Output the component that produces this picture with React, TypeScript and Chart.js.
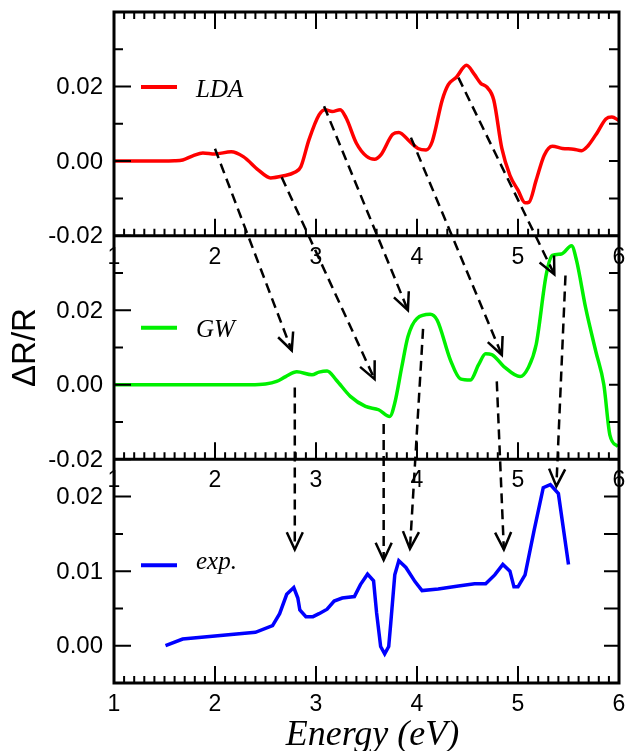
import { useEffect, useRef } from "react";
import { Chart, registerables } from "chart.js";

Chart.register(...registerables);

// ---------- data ----------
const ENERGY_MIN = 1;
const ENERGY_MAX = 6;
const xMajorTicks = [1, 2, 3, 4, 5, 6];
const xTickLabels = ["1", "2", "3", "4", "5", "6"];
const xMinorStep = 0.1;

const ldaEnergy = [1.0, 1.3, 1.6, 1.68, 1.78, 1.88, 2.0, 2.16, 2.28, 2.43, 2.55, 2.67, 2.79, 2.85, 2.93, 3.03, 3.09, 3.16, 3.24, 3.3, 3.4, 3.5, 3.58, 3.64, 3.76, 3.82, 3.93, 4.01, 4.09, 4.15, 4.25, 4.31, 4.39, 4.49, 4.57, 4.63, 4.69, 4.76, 4.84, 4.92, 5.0, 5.07, 5.11, 5.18, 5.26, 5.34, 5.44, 5.55, 5.63, 5.69, 5.79, 5.87, 5.93, 6.0];
const ldaValues = [0, 0, 0.0001, 0.0003, 0.0014, 0.0022, 0.0019, 0.0025, 0.0012, -0.0024, -0.0045, -0.004, -0.003, -0.0015, 0.0057, 0.0124, 0.0138, 0.0133, 0.0138, 0.0115, 0.0048, 0.0013, 0.0005, 0.0016, 0.0072, 0.0077, 0.0052, 0.0034, 0.003, 0.0052, 0.0164, 0.0205, 0.0225, 0.0257, 0.0232, 0.0209, 0.0199, 0.0164, 0.0034, -0.0038, -0.0078, -0.0112, -0.011, -0.0051, 0.0016, 0.004, 0.0034, 0.0032, 0.0028, 0.004, 0.0079, 0.0113, 0.0118, 0.0109];

const gwEnergy = [1.0, 2.0, 2.35, 2.5, 2.61, 2.7, 2.81, 2.96, 3.03, 3.11, 3.2, 3.34, 3.49, 3.62, 3.73, 3.78, 3.85, 3.91, 4.0, 4.13, 4.2, 4.33, 4.43, 4.53, 4.61, 4.68, 4.74, 4.86, 5.02, 5.1, 5.18, 5.28, 5.34, 5.43, 5.53, 5.58, 5.67, 5.77, 5.85, 5.91, 5.99];
const gwValues = [0, 0, 0, 0.0002, 0.0009, 0.0022, 0.0035, 0.0027, 0.0034, 0.0037, 0.0013, -0.0031, -0.0058, -0.0067, -0.0085, -0.0049, 0.0049, 0.0129, 0.0178, 0.0189, 0.0173, 0.0067, 0.0016, 0.0013, 0.0054, 0.0083, 0.0081, 0.0049, 0.0022, 0.0045, 0.0108, 0.0296, 0.0347, 0.0351, 0.0373, 0.0333, 0.0206, 0.009, 0.0, -0.0135, -0.0166];

const expEnergy = [1.51, 1.68, 2.4, 2.57, 2.64, 2.71, 2.78, 2.82, 2.84, 2.9, 2.97, 3.03, 3.11, 3.18, 3.26, 3.38, 3.44, 3.51, 3.57, 3.6, 3.64, 3.68, 3.72, 3.74, 3.78, 3.82, 3.89, 3.98, 4.05, 4.21, 4.41, 4.57, 4.68, 4.77, 4.85, 4.92, 4.96, 5.0, 5.07, 5.16, 5.25, 5.32, 5.4, 5.5];
const expValues = [0.0, 0.0009, 0.0018, 0.0027, 0.0043, 0.0069, 0.0078, 0.0064, 0.0048, 0.0039, 0.0039, 0.0043, 0.0049, 0.006, 0.0064, 0.0066, 0.0082, 0.0096, 0.0087, 0.0044, -0.0001, -0.0011, -0.0001, 0.003, 0.0095, 0.0114, 0.0105, 0.0086, 0.0074, 0.0076, 0.008, 0.0083, 0.0083, 0.0095, 0.0109, 0.01, 0.0079, 0.0079, 0.0095, 0.0155, 0.0212, 0.0216, 0.0204, 0.0109];

const ldaRange = [-0.02, 0.04];
const gwRange = [-0.02, 0.04];
const expRange = [-0.005, 0.025];

const ldaMajorYTicks = [-0.02, 0, 0.02];
const ldaYLabels = ["-0.02", "0.00", "0.02"];
const ldaMinorYTicks = [-0.01, 0.01, 0.03];
const gwMajorYTicks = [-0.02, 0, 0.02];
const gwYLabels = ["-0.02", "0.00", "0.02"];
const gwMinorYTicks = [-0.01, 0.01, 0.03];
const expMajorYTicks = [0, 0.01, 0.02];
const expYLabels = ["0.00", "0.01", "0.02"];
const expMinorYTicks = [0.005, 0.015];

const seriesNames = ["LDA", "GW", "exp."];
const xTitle = "Energy (eV)";
const yTitle = "ΔR/R";

// arrows: [energy, value] pairs
const ldaToGwFrom = [[2.0, 0.0033], [2.66, -0.0043], [3.08, 0.0147], [3.94, 0.0063], [4.41, 0.0224]];
const ldaToGwTo = [[2.76, 0.0092], [3.58, 0.0015], [3.91, 0.02], [4.84, 0.008], [5.36, 0.0296]];
const gwToExpFrom = [[2.79, -0.0007], [3.67, -0.0105], [4.06, 0.015], [4.79, 0.0009], [5.47, 0.0293]];
const gwToExpTo = [[2.79, 0.0129], [3.67, 0.0115], [3.93, 0.013], [4.86, 0.0129], [5.38, 0.0214]];

const toPoints = (xs: number[], ys: number[]) => xs.map((x, i) => ({ x, y: ys[i] }));

const SANS = '"Liberation Sans", Arial, sans-serif';
const SERIF = '"Liberation Serif", "Times New Roman", serif';

const decorPlugin = {
  id: "decor",
  afterDatasetsDraw(chart: any) {
    const ctx: CanvasRenderingContext2D = chart.ctx;
    const ca = chart.chartArea;
    const xs = chart.scales.x;
    const sL = chart.scales.yLDA;
    const sG = chart.scales.yGW;
    const sE = chart.scales.yExp;
    ctx.save();

    // legends
    const legends = [
      { s: sL, off: 75, color: "#ff0000", text: seriesNames[0], dy: 10 },
      { s: sG, off: 92, color: "#00f000", text: seriesNames[1], dy: 9 },
      { s: sE, off: 106, color: "#0000ff", text: seriesNames[2], dy: 4 },
    ];
    for (const lg of legends) {
      const y = lg.s.top + lg.off;
      ctx.strokeStyle = lg.color;
      ctx.lineWidth = 4;
      ctx.beginPath();
      ctx.moveTo(ca.left + 27, y);
      ctx.lineTo(ca.left + 63, y);
      ctx.stroke();
      ctx.fillStyle = "#000";
      ctx.font = `italic 25px ${SERIF}`;
      ctx.textAlign = "left";
      ctx.textBaseline = "alphabetic";
      ctx.fillText(lg.text, ca.left + 82, y + lg.dy);
    }

    // arrows
    const arrow = (x0: number, y0: number, x1: number, y1: number) => {
      ctx.strokeStyle = "#000";
      ctx.lineWidth = 2.5;
      ctx.setLineDash([10, 6]);
      ctx.beginPath();
      ctx.moveTo(x0, y0);
      ctx.lineTo(x1, y1);
      ctx.stroke();
      ctx.setLineDash([]);
      const ang = Math.atan2(y1 - y0, x1 - x0);
      const L = 19;
      const a = (25 * Math.PI) / 180;
      ctx.beginPath();
      ctx.moveTo(x1 - L * Math.cos(ang - a), y1 - L * Math.sin(ang - a));
      ctx.lineTo(x1, y1);
      ctx.lineTo(x1 - L * Math.cos(ang + a), y1 - L * Math.sin(ang + a));
      ctx.stroke();
    };
    ldaToGwFrom.forEach((f, i) => {
      const t = ldaToGwTo[i];
      arrow(xs.getPixelForValue(f[0]), sL.getPixelForValue(f[1]), xs.getPixelForValue(t[0]), sG.getPixelForValue(t[1]));
    });
    gwToExpFrom.forEach((f, i) => {
      const t = gwToExpTo[i];
      arrow(xs.getPixelForValue(f[0]), sG.getPixelForValue(f[1]), xs.getPixelForValue(t[0]), sE.getPixelForValue(t[1]));
    });

    // x tick labels below each panel's bottom edge
    ctx.fillStyle = "#000";
    ctx.font = `23px ${SANS}`;
    ctx.textAlign = "center";
    ctx.textBaseline = "top";
    for (const s of [sL, sG, sE]) {
      xMajorTicks.forEach((v, i) => {
        ctx.fillText(xTickLabels[i], xs.getPixelForValue(v), s.bottom + 10);
      });
    }

    // frame
    ctx.strokeStyle = "#000";
    ctx.lineWidth = 3;
    ctx.lineCap = "square";
    ctx.beginPath();
    ctx.moveTo(ca.left, ca.top);
    ctx.lineTo(ca.left, ca.bottom);
    ctx.moveTo(ca.right, ca.top);
    ctx.lineTo(ca.right, ca.bottom);
    for (const yy of [sL.top, sL.bottom, sG.bottom, sE.bottom]) {
      ctx.moveTo(ca.left, yy);
      ctx.lineTo(ca.right, yy);
    }
    ctx.stroke();

    // x ticks
    ctx.lineWidth = 2;
    ctx.lineCap = "butt";
    const nMinor = Math.round((ENERGY_MAX - ENERGY_MIN) / xMinorStep);
    const edges = [
      { y: sL.top, dir: 1 },
      { y: sL.bottom, dir: -1 },
      { y: sG.bottom, dir: -1 },
      { y: sE.bottom, dir: -1 },
    ];
    ctx.beginPath();
    for (let i = 1; i < nMinor; i++) {
      const v = ENERGY_MIN + i * xMinorStep;
      const px = xs.getPixelForValue(v);
      const len = i % 10 === 0 ? 17 : 7;
      for (const e of edges) {
        ctx.moveTo(px, e.y);
        ctx.lineTo(px, e.y + e.dir * len);
      }
    }
    ctx.stroke();

    // y ticks and labels
    const panels = [
      { s: sL, major: ldaMajorYTicks, labels: ldaYLabels, minor: ldaMinorYTicks, rightLen: 10 },
      { s: sG, major: gwMajorYTicks, labels: gwYLabels, minor: gwMinorYTicks, rightLen: 10 },
      { s: sE, major: expMajorYTicks, labels: expYLabels, minor: expMinorYTicks, rightLen: 15 },
    ];
    ctx.beginPath();
    for (const p of panels) {
      for (const v of p.major) {
        const py = p.s.getPixelForValue(v);
        ctx.moveTo(ca.left, py);
        ctx.lineTo(ca.left + 17, py);
        ctx.moveTo(ca.right, py);
        ctx.lineTo(ca.right - p.rightLen, py);
      }
      for (const v of p.minor) {
        const py = p.s.getPixelForValue(v);
        ctx.moveTo(ca.left, py);
        ctx.lineTo(ca.left + 9, py);
        ctx.moveTo(ca.right, py);
        ctx.lineTo(ca.right - p.rightLen, py);
      }
    }
    ctx.stroke();

    ctx.font = `24px ${SANS}`;
    ctx.textAlign = "right";
    ctx.textBaseline = "middle";
    for (const p of panels) {
      p.major.forEach((v, i) => {
        ctx.fillText(p.labels[i], ca.left - 11, p.s.getPixelForValue(v) + 1);
      });
    }

    // axis titles
    ctx.font = `italic 36px ${SERIF}`;
    ctx.textAlign = "center";
    ctx.textBaseline = "alphabetic";
    ctx.fillText(xTitle, (ca.left + ca.right) / 2 + 6, ca.bottom + 62);

    ctx.save();
    ctx.translate(26, (ca.top + ca.bottom) / 2);
    ctx.rotate(-Math.PI / 2);
    ctx.font = `33px ${SANS}`;
    ctx.textBaseline = "middle";
    ctx.fillText(yTitle, 0, 0);
    ctx.restore();

    ctx.restore();
  },
};

export default function App() {
  const ref = useRef<HTMLCanvasElement>(null);
  useEffect(() => {
    const canvas = ref.current;
    if (!canvas) return;
    const chart = new Chart(canvas, {
      type: "line",
      data: {
        datasets: [
          {
            label: seriesNames[0],
            data: toPoints(ldaEnergy, ldaValues),
            yAxisID: "yLDA",
            borderColor: "#ff0000",
            borderWidth: 3.5,
            pointRadius: 0,
            cubicInterpolationMode: "monotone",
          },
          {
            label: seriesNames[1],
            data: toPoints(gwEnergy, gwValues),
            yAxisID: "yGW",
            borderColor: "#00f000",
            borderWidth: 3.5,
            pointRadius: 0,
            cubicInterpolationMode: "monotone",
          },
          {
            label: seriesNames[2],
            data: toPoints(expEnergy, expValues),
            yAxisID: "yExp",
            borderColor: "#0000ff",
            borderWidth: 3.5,
            pointRadius: 0,
            tension: 0,
          },
        ],
      },
      options: {
        responsive: false,
        animation: false,
        devicePixelRatio: 1,
        layout: { padding: { left: 114, right: 7, top: 12, bottom: 68 } },
        plugins: { legend: { display: false }, tooltip: { enabled: false } },
        scales: {
          x: { type: "linear", min: ENERGY_MIN, max: ENERGY_MAX, display: false },
          yLDA: { type: "linear", min: ldaRange[0], max: ldaRange[1], display: false, position: "left", stack: "panels", stackWeight: 1, weight: 3 },
          yGW: { type: "linear", min: gwRange[0], max: gwRange[1], display: false, position: "left", stack: "panels", stackWeight: 1, weight: 2 },
          yExp: { type: "linear", min: expRange[0], max: expRange[1], display: false, position: "left", stack: "panels", stackWeight: 1, weight: 1 },
        },
      } as any,
      plugins: [decorPlugin],
    });
    return () => chart.destroy();
  }, []);
  return (
    <div style={{ position: "absolute", left: 0, top: 0, width: 626, height: 751, background: "#fff" }}>
      <canvas ref={ref} width={626} height={751} style={{ display: "block" }} />
    </div>
  );
}
